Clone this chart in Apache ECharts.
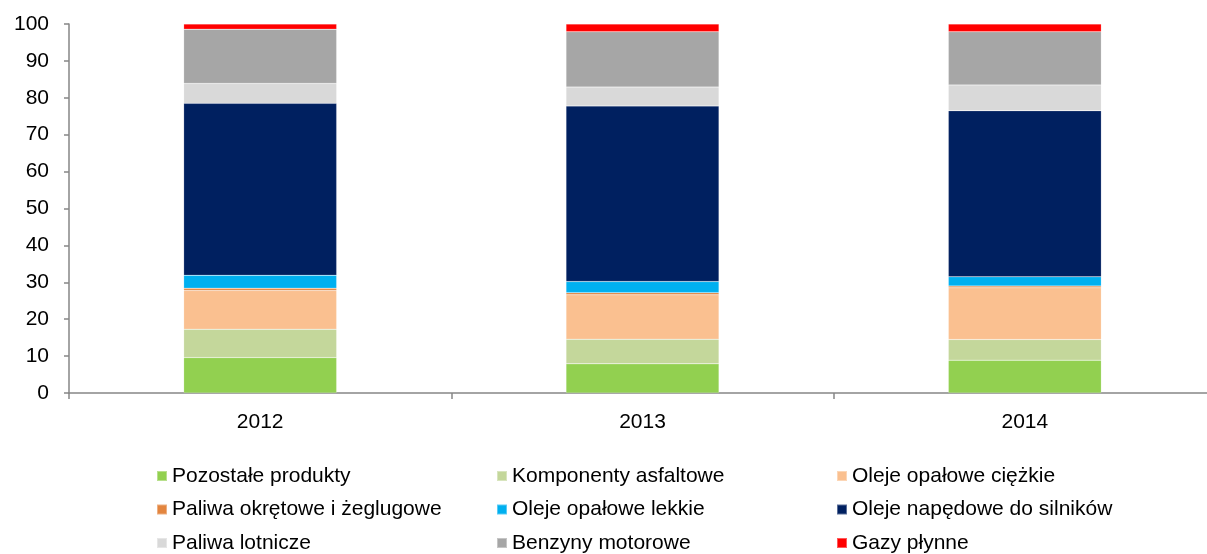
<!DOCTYPE html>
<html>
<head>
<meta charset="utf-8">
<script src="https://cdn.jsdelivr.net/npm/echarts@6/dist/echarts.min.js"></script>
<style>
	html, body { margin: 0; padding: 0; background: #fff; }
	#chart { width: 1207px; height: 554px; }
</style>
</head>
<body>
<div id="chart"></div>
<script>
	var years = ['2012', '2013', '2014'];
	var yTicks = [0, 10, 20, 30, 40, 50, 60, 70, 80, 90, 100];

	// udzialy (%) - od dolu slupka
	var pozostale = [9.6, 7.9, 8.9];
	var komponenty = [7.7, 6.7, 5.6];
	var olejeCiezkie = [10.5, 12.0, 14.0];
	var paliwaOkretowe = [0.6, 0.6, 0.5];
	var olejeLekkie = [3.5, 3.0, 2.5];
	var olejeNapedowe = [46.6, 47.6, 45.0];
	var paliwaLotnicze = [5.4, 5.1, 7.0];
	var benzyny = [14.7, 15.0, 14.4];
	var gazy = [1.4, 2.1, 2.1];

	var names = ['Pozostałe produkty', 'Komponenty asfaltowe', 'Oleje opałowe ciężkie',
		'Paliwa okrętowe i żeglugowe', 'Oleje opałowe lekkie', 'Oleje napędowe do silników',
		'Paliwa lotnicze', 'Benzyny motorowe', 'Gazy płynne'];
	var values = [pozostale, komponenty, olejeCiezkie, paliwaOkretowe, olejeLekkie,
		olejeNapedowe, paliwaLotnicze, benzyny, gazy];
	var colors = ['#92D050', '#C4D79B', '#FAC090', '#E3853F', '#00B0F0',
		'#002060', '#D9D9D9', '#A6A6A6', '#FF0000'];

	var font = 'Liberation Sans, Arial, sans-serif';

	var chart = echarts.init(document.getElementById('chart'));

	var series = names.map(function (n, i) {
		return {
			name: n,
			type: 'bar',
			stack: 'total',
			barWidth: 153,
			itemStyle: { color: colors[i], borderColor: 'rgba(255,255,255,0.35)', borderWidth: 0.5 },
			data: values[i]
		};
	});

	// legenda w 3 kolumnach
	var legendCols = [[0, 3, 6], [1, 4, 7], [2, 5, 8]];
	var legendLeft = [156, 496, 836];
	var legends = legendCols.map(function (col, c) {
		return {
			orient: 'vertical',
			left: legendLeft[c],
			top: 464,
			height: 120,
			padding: 0,
			itemWidth: 10,
			itemHeight: 10,
			itemGap: 9.5,
			icon: 'rect',
			selectedMode: false,
			textStyle: { fontFamily: font, fontSize: 21, color: '#000', lineHeight: 24 },
			data: col.map(function (k) { return names[k]; })
		};
	});

	var option = {
		animation: false,
		color: colors,
		textStyle: { fontFamily: font },
		legend: legends,
		// wykres w oryginale jest uciety z prawej strony
		grid: { left: 69, width: 1147, top: 24, bottom: 161, outerBoundsMode: 'none' },
		xAxis: {
			type: 'category',
			data: years,
			axisLine: { lineStyle: { color: '#868686', width: 1.5 } },
			axisTick: { show: true, length: 6, lineStyle: { color: '#868686', width: 1.5 } },
			axisLabel: { fontSize: 21, color: '#000', margin: 19, fontFamily: font }
		},
		yAxis: {
			type: 'value',
			min: yTicks[0],
			max: yTicks[yTicks.length - 1],
			interval: 10,
			axisLine: { show: true, lineStyle: { color: '#868686', width: 1.5 } },
			axisTick: { show: true, length: 5, lineStyle: { color: '#868686', width: 1.5 } },
			splitLine: { show: false },
			axisLabel: { fontSize: 21, color: '#000', margin: 20, fontFamily: font }
		},
		series: series
	};
	chart.setOption(option);
</script>
</body>
</html>
